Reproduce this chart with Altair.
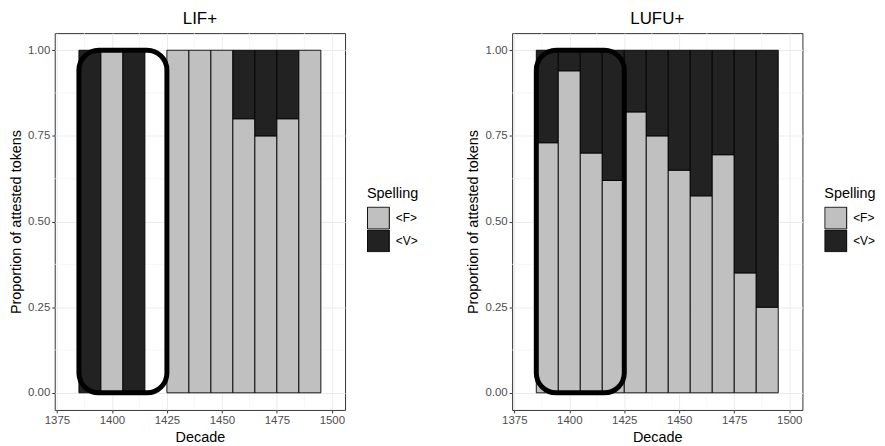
import altair as alt
import pandas as pd

# ---- data ----
decades = [1390, 1400, 1410, 1420, 1430, 1440, 1450, 1460, 1470, 1480, 1490]
lif_F = [0.0, 1.0, 0.0, None, 1.0, 1.0, 1.0, 0.80, 0.75, 0.80, 1.0]
lif_V = [1.0, 0.0, 1.0, None, 0.0, 0.0, 0.0, 0.20, 0.25, 0.20, 0.0]
lufu_F = [0.73, 0.94, 0.70, 0.62, 0.82, 0.75, 0.65, 0.575, 0.695, 0.35, 0.25]
lufu_V = [0.27, 0.06, 0.30, 0.38, 0.18, 0.25, 0.35, 0.425, 0.305, 0.65, 0.75]
spellings = ["<F>", "<V>"]
spelling_colors = ["#C0C0C0", "#222222"]
x_ticks = [1375, 1400, 1425, 1450, 1475, 1500]
x_minor = [1387.5, 1412.5, 1437.5, 1462.5, 1487.5]
y_ticks = [0.0, 0.25, 0.5, 0.75, 1.0]
y_minor = [0.125, 0.375, 0.625, 0.875]
highlight_box = {"x0": 1385, "x1": 1425, "y0": 0.0, "y1": 1.0}

FONT = "Liberation Sans"


def panel(title, F, V):
    rows = []
    for d, f, v in zip(decades, F, V):
        if f:
            rows.append({"decade": d, "spelling": "<F>", "prop": f, "ord": 0})
        if v:
            rows.append({"decade": d, "spelling": "<V>", "prop": v, "ord": 1})
    df = pd.DataFrame(rows)

    xscale = alt.Scale(domain=[1374, 1506], nice=False, zero=False)
    yscale = alt.Scale(domain=[-0.05, 1.05], nice=False, zero=False)
    xaxis = alt.Axis(values=x_ticks, title="Decade", format="d", grid=True)
    yaxis = alt.Axis(
        values=y_ticks, format=".2f", title="Proportion of attested tokens", grid=True
    )

    minor_x = alt.Chart(pd.DataFrame({"v": x_minor})).mark_rule(
        color="#F3F3F3", strokeWidth=0.7
    ).encode(x=alt.X("v:Q", scale=xscale, axis=xaxis))
    minor_y = alt.Chart(pd.DataFrame({"v": y_minor})).mark_rule(
        color="#F3F3F3", strokeWidth=0.7
    ).encode(y=alt.Y("v:Q", scale=yscale, axis=yaxis))

    bars = (
        alt.Chart(df)
        .transform_stack(
            stack="prop",
            groupby=["decade"],
            as_=["y0", "y1"],
            sort=[alt.SortField("ord", order="ascending")],
        )
        .transform_calculate(x0="datum.decade - 5", x1="datum.decade + 5")
        .mark_rect(stroke="black", strokeWidth=0.9)
        .encode(
            x=alt.X("x0:Q", scale=xscale, axis=xaxis),
            x2="x1:Q",
            y=alt.Y("y0:Q", scale=yscale, axis=yaxis),
            y2="y1:Q",
            color=alt.Color(
                "spelling:N",
                scale=alt.Scale(domain=spellings, range=spelling_colors),
                legend=alt.Legend(
                    title="Spelling",
                    orient="none",
                    legendX=314,
                    legendY=155,
                    symbolType="square",
                    symbolSize=484,
                    symbolStrokeColor="black",
                    symbolStrokeWidth=1,
                    symbolOpacity=1,
                    rowPadding=0,
                    clipHeight=23,
                    labelOffset=6,
                    titlePadding=5,
                    padding=0,
                ),
            ),
        )
    )

    box = alt.Chart(pd.DataFrame([highlight_box])).mark_rect(
        fillOpacity=0, stroke="black", strokeWidth=5, cornerRadius=20
    ).encode(
        x=alt.X("x0:Q", scale=xscale, axis=xaxis),
        x2="x1:Q",
        y=alt.Y("y0:Q", scale=yscale, axis=yaxis),
        y2="y1:Q",
    )

    return alt.layer(minor_x, minor_y, bars, box).properties(
        width=292, height=379, title=title
    )


chart = (
    alt.hconcat(panel("LIF+", lif_F, lif_V), panel("LUFU+", lufu_F, lufu_V), spacing=46)
    .resolve_scale(color="independent")
    .properties(padding={"left": 0, "top": 0, "right": 0, "bottom": 0})
    .configure(font=FONT)
    .configure_view(stroke="#333333", strokeWidth=1, fill="white")
    .configure_axis(
        labelColor="#4D4D4D",
        labelFontSize=11.5,
        labelFont=FONT,
        titleFont=FONT,
        titleFontSize=14.5,
        titleFontWeight="normal",
        titleColor="black",
        tickColor="#333333",
        tickSize=3,
        labelPadding=2,
        titlePadding=4,
        domain=False,
        gridColor="#EBEBEB",
        gridWidth=1,
    )
    .configure_legend(
        titleFont=FONT,
        labelFont=FONT,
        titleFontSize=14.5,
        titleFontWeight="normal",
        titleColor="black",
        labelFontSize=12,
        labelColor="black",
    )
    .configure_title(
        font=FONT, fontSize=17, fontWeight="normal", color="black", anchor="middle", offset=5
    )
)

chart.save("out.html", embed_options={"renderer": "svg", "actions": False})
